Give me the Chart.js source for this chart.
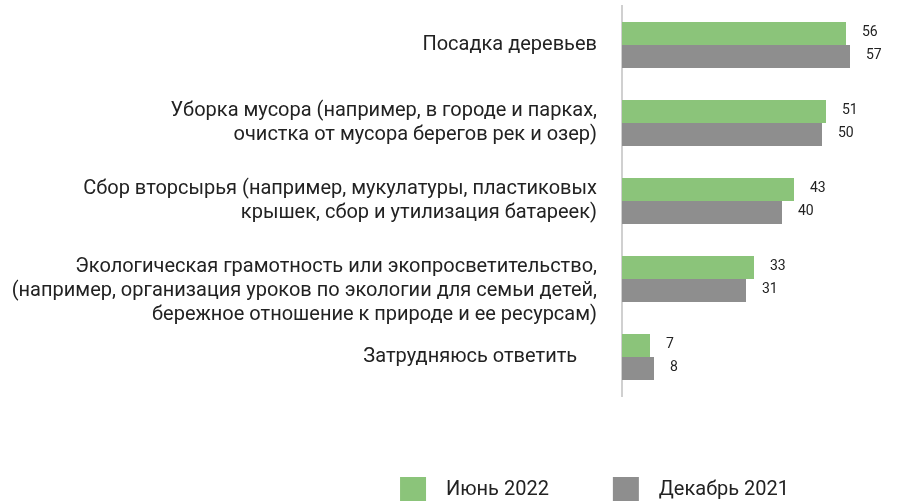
<!DOCTYPE html>
<html>
<head>
<meta charset="utf-8">
<script src="https://cdn.jsdelivr.net/npm/chart.js@4.4.1/dist/chart.umd.min.js"></script>
<style>
  html, body { margin: 0; padding: 0; background: #ffffff; overflow: hidden; }
  #wrap { position: relative; width: 901px; height: 513px; }
</style>
</head>
<body>
<div id="wrap"><canvas id="c"></canvas></div>
<script>
const categories = [
  ["Посадка деревьев"],
  ["Уборка мусора (например, в городе и парках,", "очистка от мусора берегов рек и озер)"],
  ["Сбор вторсырья (например, мукулатуры, пластиковых", "крышек, сбор и утилизация батареек)"],
  ["", "Экологическая грамотность или экопросветительство,", "(например, организация уроков по экологии для семьи детей,", "бережное отношение к природе и ее ресурсам)"],
  ["Затрудняюсь ответить\u00A0\u00A0\u00A0\u00A0"]
];
const seriesNames = ["Июнь 2022", "Декабрь 2021"];
const june2022 = [56, 51, 43, 33, 7];
const dec2021 = [57, 50, 40, 31, 8];

const GREEN = "#8bc47a";
const GRAY = "#8e8e8e";
const TEXT = "#222222";
const FONT = "Roboto, 'Noto Sans', sans-serif";

const valueLabels = {
  id: "valueLabels",
  afterDatasetsDraw(chart) {
    const ctx = chart.ctx;
    ctx.save();
    ctx.font = "14px " + FONT;
    ctx.fillStyle = TEXT;
    ctx.textAlign = "left";
    ctx.textBaseline = "middle";
    chart.data.datasets.forEach((ds, i) => {
      const meta = chart.getDatasetMeta(i);
      meta.data.forEach((bar, j) => {
        ctx.fillText(String(ds.data[j]), bar.x + 16, bar.y - 1);
      });
    });
    ctx.restore();
  }
};

new Chart(document.getElementById("c"), {
  type: "bar",
  data: {
    labels: categories,
    datasets: [
      { label: seriesNames[0], data: june2022, backgroundColor: GREEN, borderWidth: 0 },
      { label: seriesNames[1], data: dec2021, backgroundColor: GRAY, borderWidth: 0 }
    ]
  },
  options: {
    indexAxis: "y",
    responsive: true,
    maintainAspectRatio: false,
    animation: false,
    devicePixelRatio: 1,
    layout: { padding: { top: 6, right: 43, left: 0, bottom: 0 } },
    datasets: { bar: { categoryPercentage: 0.59, barPercentage: 1.0 } },
    scales: {
      x: {
        min: 0, max: 59,
        display: true,
        grid: { display: false },
        border: { display: false },
        ticks: { display: false },
        afterFit(scale) { scale.height = 17; scale.paddingLeft = 0; scale.paddingRight = 0; }
      },
      y: {
        grid: { display: true, drawOnChartArea: false, drawTicks: true, tickLength: 25, color: "rgba(0,0,0,0)" },
        border: { display: true, color: "#d0d0d0", width: 2 },
        ticks: {
          padding: 0,
          autoSkip: false,
          color: TEXT,
          font: { family: FONT, size: 20, lineHeight: "24px" }
        },
        afterFit(scale) { scale.width = 622; scale.paddingTop = 0; scale.paddingBottom = 0; }
      }
    },
    plugins: {
      tooltip: { enabled: false },
      legend: {
        position: "bottom",
        align: "end",
        labels: {
          boxWidth: 26,
          boxHeight: 26,
          padding: 64,
          color: TEXT,
          font: { family: FONT, size: 20 },
          generateLabels(chart) {
            return chart.data.datasets.map((ds, i) => ({
              text: "\u00A0\u00A0" + ds.label + (i === 1 ? "\u00A0" : ""),
              fillStyle: ds.backgroundColor,
              strokeStyle: ds.backgroundColor,
              lineWidth: 0,
              hidden: false,
              datasetIndex: i,
              fontColor: TEXT
            }));
          }
        }
      }
    }
  },
  plugins: [valueLabels]
});
</script>
</body>
</html>
